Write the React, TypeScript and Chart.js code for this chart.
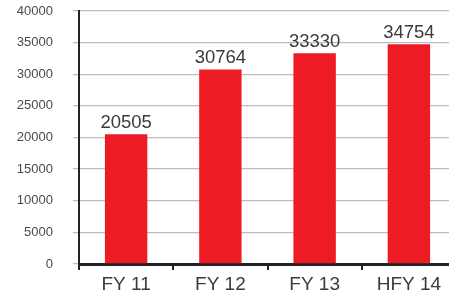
import React, { useEffect, useRef } from "react";
import { Chart, registerables } from "chart.js";

Chart.register(...registerables);

const categories = ["FY 11", "FY 12", "FY 13", "HFY 14"];
const values = [20505, 30764, 33330, 34754];
const yMin = 0;
const yMax = 40000;
const yStep = 5000;

const FONT = "'Liberation Sans', Arial, sans-serif";

const valueLabelPlugin = {
  id: "valueLabels",
  afterDatasetsDraw(chart: any) {
    const ctx = chart.ctx;
    const meta = chart.getDatasetMeta(0);
    ctx.save();
    ctx.font = `18.5px ${FONT}`;
    ctx.fillStyle = "#3a3a3a";
    ctx.textAlign = "center";
    ctx.textBaseline = "alphabetic";
    meta.data.forEach((bar: any, i: number) => {
      ctx.fillText(String(values[i]), bar.x, bar.y - 6);
    });
    ctx.restore();
  },
};

export default function App() {
  const ref = useRef<HTMLCanvasElement | null>(null);

  useEffect(() => {
    if (!ref.current) return;
    const chart = new Chart(ref.current, {
      type: "bar",
      data: {
        labels: categories,
        datasets: [
          {
            data: values,
            backgroundColor: "#ED1C24",
            borderWidth: 0,
            barPercentage: 0.9,
            categoryPercentage: 0.5,
          },
        ],
      },
      options: {
        responsive: false,
        animation: false,
        devicePixelRatio: 1,
        layout: { padding: { top: 11, right: 4, left: 0, bottom: 0 } },
        plugins: {
          legend: { display: false },
          tooltip: { enabled: false },
        },
        scales: {
          x: {
            grid: {
              display: true,
              drawOnChartArea: false,
              drawTicks: true,
              tickLength: 6,
              color: "#222",
              lineWidth: 2,
              offset: true,
            },
            border: { display: true, color: "#222", width: 3 },
            ticks: {
              color: "#3a3a3a",
              font: { family: FONT, size: 19 },
              padding: 3,
            },
            afterFit: (scale: any) => {
              scale.height = 34;
              scale.paddingLeft = 0;
              scale.paddingRight = 0;
            },
          },
          y: {
            min: yMin,
            max: yMax,
            grid: {
              color: "#bdbdbd",
              lineWidth: 1.3,
              drawTicks: true,
              tickLength: 6,
            },
            border: { display: true, color: "#222", width: 2 },
            ticks: {
              stepSize: yStep,
              color: "#4a4a4a",
              padding: 20,
              font: { family: FONT, size: 13 },
              callback: (v: any) => String(v),
            },
            afterFit: (scale: any) => {
              scale.width = 79;
              scale.paddingTop = 0;
              scale.paddingBottom = 0;
            },
          },
        },
      },
      plugins: [valueLabelPlugin],
    });
    return () => chart.destroy();
  }, []);

  return (
    <div
      style={{
        position: "absolute",
        left: 0,
        top: 0,
        width: 449,
        height: 298,
        overflow: "hidden",
        background: "#fff",
      }}
    >
      <canvas ref={ref} width={460} height={298} style={{ display: "block", width: 460, height: 298 }} />
    </div>
  );
}
